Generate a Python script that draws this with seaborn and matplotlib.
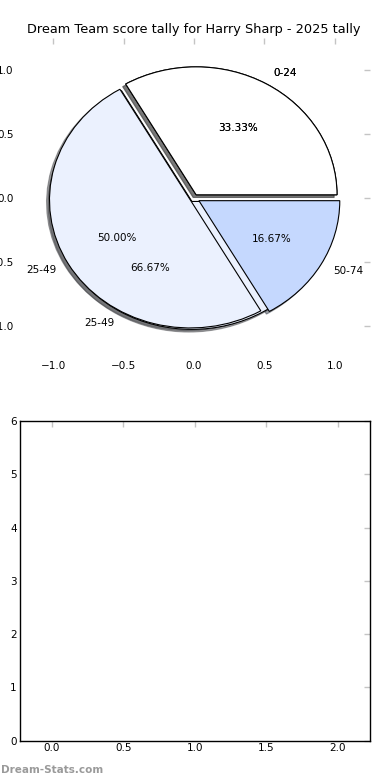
import matplotlib
matplotlib.use("Agg")
import matplotlib.pyplot as plt
import seaborn as sns

# score bands and how many rounds fell in each
bands = ['0-24', '25-49', '50-74']
band_counts = [2, 3, 1]
band_colours = ['#ffffff', '#ebf1fe', '#c5d8fe']
band_explode = [0.03, 0.03, 0.04]

# earlier tally that got drawn underneath
old_bands = ['0-24', '25-49']
old_counts = [2, 4]
old_explode = [0.03, 0.03]

title = 'Dream Team score tally for Harry Sharp - 2025 tally'
pie_ticks = [-1.0, -0.5, 0.0, 0.5, 1.0]
bar_xticks = [0.0, 0.5, 1.0, 1.5, 2.0]
bar_yticks = [0, 1, 2, 3, 4, 5, 6]

sns.set_style("white")
plt.rcParams['font.family'] = ['DejaVu Sans']
plt.rcParams['font.size'] = 7.5
plt.rcParams['text.color'] = 'black'
plt.rcParams['axes.labelcolor'] = 'black'
plt.rcParams['xtick.labelcolor'] = 'black'
plt.rcParams['ytick.labelcolor'] = 'black'

fig = plt.figure(figsize=(3.9, 7.8), dpi=100)

###################################### pie ######################################
ax1 = fig.add_axes([0.046, 0.541, 0.903, 0.410])
wp = dict(edgecolor='black', linewidth=0.8)
shad = dict(ox=-0.015, oy=-0.015)
ax1.pie(old_counts, labels=old_bands, explode=old_explode, colors=band_colours[:2],
        autopct='%1.2f%%', shadow=shad, wedgeprops=wp,
        textprops=dict(fontsize=7.5, color='black'))
ax1.pie(band_counts, labels=bands, explode=band_explode, colors=band_colours,
        autopct='%1.2f%%', shadow=shad, wedgeprops=wp,
        textprops=dict(fontsize=7.5, color='black'))
ax1.set_aspect('auto')
ax1.set_frame_on(False)
ax1.set_xlim(-1.25, 1.25)
ax1.set_ylim(-1.25, 1.25)
ax1.set_xticks(pie_ticks)
ax1.set_yticks(pie_ticks)
ax1.tick_params(direction='in', length=4, width=1, color='#c4c4c4',
                labelcolor='black', top=True, right=True, labelsize=7.5, pad=3)
ax1.tick_params(axis='x', pad=2.5)
ax1.set_title(title, fontsize=9.3, pad=4, color='black')

###################################### empty bar axes ######################################
ax2 = fig.add_axes([0.050, 0.0506, 0.899, 0.4096])
ax2.set_xlim(-0.225, 2.225)
ax2.set_ylim(0, 6)
ax2.set_xticks(bar_xticks)
ax2.set_yticks(bar_yticks)
ax2.set_xticklabels([f'{t:.1f}' for t in bar_xticks])
for s in ax2.spines.values():
    s.set_visible(True)
    s.set_color('black')
    s.set_linewidth(1)
ax2.tick_params(direction='in', length=4, width=1, color='#c4c4c4',
                labelcolor='black', top=True, right=True, labelsize=7.5, pad=2)
ax2.tick_params(axis='y', pad=2)

fig.text(0.003, 0.0125, 'Dream-Stats.com', color='#9a9a9a', fontsize=7.5,
         fontweight='bold', va='center', ha='left')

fig.savefig('out.png', dpi=100)
